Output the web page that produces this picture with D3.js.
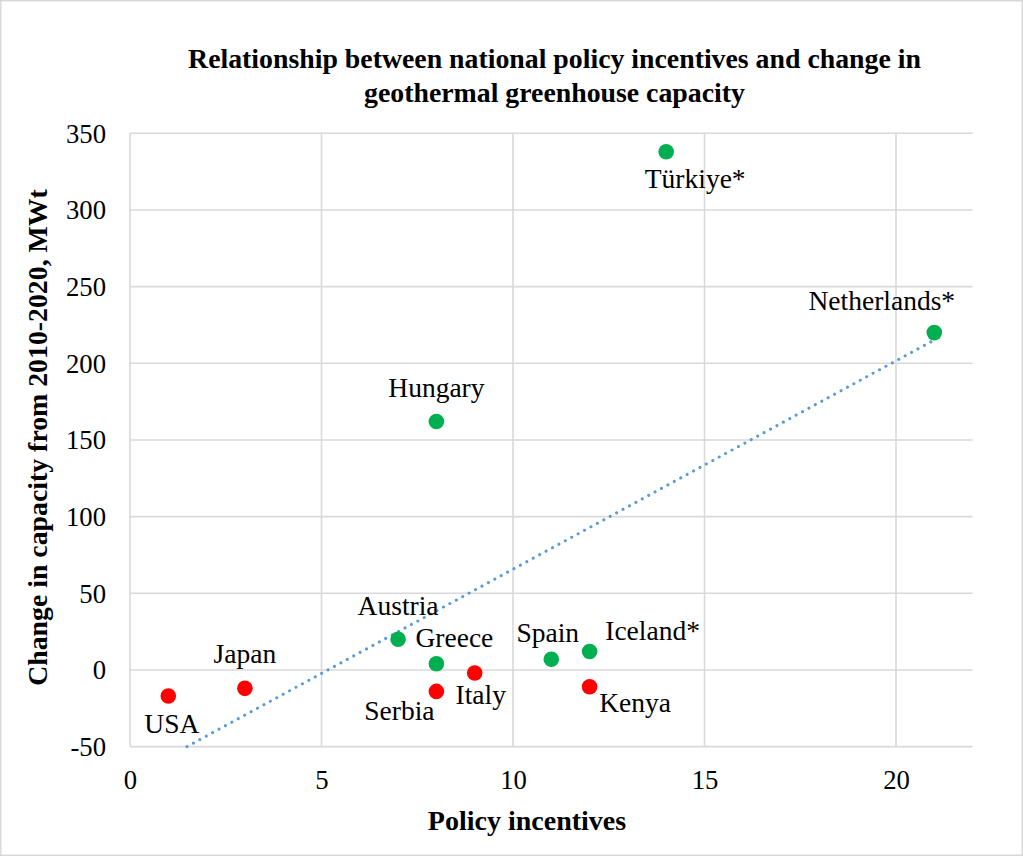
<!DOCTYPE html>
<html>
<head>
<meta charset="utf-8">
<script src="https://cdn.jsdelivr.net/npm/d3@7"></script>
<style>
  html, body { margin: 0; padding: 0; background: #fff; }
  svg { display: block; }
  text { font-family: "Liberation Serif", "Times New Roman", serif; fill: #000; }
</style>
</head>
<body>
<svg id="chart" width="1023" height="856"></svg>
<script>
// ---- data ----
const countries = ["USA", "Japan", "Austria", "Greece", "Serbia", "Italy", "Hungary", "Spain", "Iceland*", "Kenya", "Türkiye*", "Netherlands*"];
const policyIncentives = [1, 3, 7, 8, 8, 9, 8, 11, 12, 12, 14, 21];
const capacityChange = [-17, -12, 20, 4, -14, -2, 162, 7, 12, -11, 338, 220];
const growth = [false, false, true, true, false, false, true, true, true, false, true, true];
const xTicks = [0, 5, 10, 15, 20];
const yTicks = [-50, 0, 50, 100, 150, 200, 250, 300, 350];
const titleLines = ["Relationship between national policy incentives and change in", "geothermal greenhouse capacity"];
const xTitle = "Policy incentives";
const yTitle = "Change in capacity from 2010-2020, MWt";

// label placement (layout only): offset of label centre / baseline from point
const labelOffset = [[3.5, 37], [0, -25], [0, -24], [18, -17], [-37, 29], [6, 31], [0, -25], [-3.5, -17], [63, -12], [45.5, 25], [29, 36], [-52.5, -23]];

const svg = d3.select("#chart");
const W = 1023, H = 856;
const plot = { left: 130, right: 972.6, top: 133.3, bottom: 746.6 };

svg.append("rect").attr("x", 0.75).attr("y", 0.75).attr("width", W - 1.5).attr("height", H - 1.5)
  .attr("fill", "#fff").attr("stroke", "#d9d9d9").attr("stroke-width", 1.5);

const x = d3.scaleLinear().domain([0, 22]).range([plot.left, plot.right]);
const y = d3.scaleLinear().domain([-50, 350]).range([plot.bottom, plot.top]);

// gridlines
const grid = svg.append("g").attr("stroke", "#d9d9d9").attr("stroke-width", 1.6);
grid.selectAll("line.h").data(yTicks).join("line")
  .attr("x1", plot.left).attr("x2", plot.right)
  .attr("y1", d => y(d)).attr("y2", d => y(d));
grid.selectAll("line.v").data(xTicks).join("line")
  .attr("x1", d => x(d)).attr("x2", d => x(d))
  .attr("y1", plot.top).attr("y2", plot.bottom);

// axes (labels only, via d3 axes)
const yAxis = svg.append("g").attr("transform", `translate(${plot.left - 24},0)`)
  .call(d3.axisLeft(y).tickValues(yTicks).tickSize(0).tickPadding(0).tickFormat(d => String(d)));
yAxis.select(".domain").remove();
yAxis.selectAll("text").attr("font-size", 26.7).attr("font-family", "Liberation Serif").attr("fill", "#000")
  .attr("dy", null).attr("y", 9);

const xAxis = svg.append("g").attr("transform", `translate(0,${plot.bottom})`)
  .call(d3.axisBottom(x).tickValues(xTicks).tickSize(0).tickPadding(0).tickFormat(d => String(d)));
xAxis.select(".domain").remove();
xAxis.selectAll("text").attr("font-size", 26.7).attr("font-family", "Liberation Serif").attr("fill", "#000")
  .attr("dy", null).attr("y", 42.5);

// trendline (least squares from the data)
const n = policyIncentives.length;
const mx = d3.mean(policyIncentives), my = d3.mean(capacityChange);
let sxy = 0, sxx = 0;
for (let i = 0; i < n; i++) { sxy += (policyIncentives[i] - mx) * (capacityChange[i] - my); sxx += (policyIncentives[i] - mx) ** 2; }
const slope = sxy / sxx, intercept = my - slope * mx;
const xMin = Math.max(d3.min(policyIncentives), (-50 - intercept) / slope);
const xMax = d3.max(policyIncentives);
svg.append("line")
  .attr("x1", x(xMin)).attr("y1", y(intercept + slope * xMin))
  .attr("x2", x(xMax)).attr("y2", y(intercept + slope * xMax))
  .attr("stroke", "#5b9bd5").attr("stroke-width", 3)
  .attr("stroke-linecap", "round").attr("stroke-dasharray", "0.1 7.2");

// points
const idx = d3.range(n);
svg.append("g").selectAll("circle").data(idx).join("circle")
  .attr("cx", i => x(policyIncentives[i])).attr("cy", i => y(capacityChange[i]))
  .attr("r", 7.8)
  .attr("fill", i => growth[i] ? "#00b050" : "#ff0000");

// labels
svg.append("g").selectAll("text").data(idx).join("text")
  .attr("x", i => x(policyIncentives[i]) + labelOffset[i][0])
  .attr("y", i => y(capacityChange[i]) + labelOffset[i][1])
  .attr("text-anchor", "middle").attr("font-size", 27.5)
  .text(i => countries[i]);

// titles
svg.append("g").selectAll("text").data(titleLines).join("text")
  .attr("x", 554.5).attr("y", (d, i) => 68 + i * 33.5)
  .attr("text-anchor", "middle").attr("font-size", 27.8).attr("font-weight", "bold")
  .text(d => d);

svg.append("text").attr("x", 527).attr("y", 830).attr("text-anchor", "middle")
  .attr("font-size", 28).attr("font-weight", "bold").text(xTitle);

svg.append("text").attr("transform", "translate(47,437.5) rotate(-90)").attr("text-anchor", "middle")
  .attr("font-size", 27.8).attr("font-weight", "bold").text(yTitle);
</script>
</body>
</html>
